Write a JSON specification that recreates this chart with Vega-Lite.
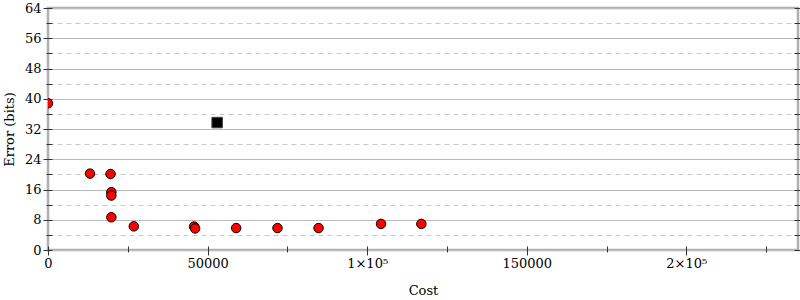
{
  "$schema": "https://vega.github.io/schema/vega-lite/v6.json",
  "width": 750,
  "height": 242,
  "autosize": {"type": "none"},
  "padding": {"left": 48, "top": 8, "right": 2, "bottom": 50},
  "background": "white",
  "config": {
    "view": {"stroke": "#b0b0b0", "strokeWidth": 2.5},
    "font": "DejaVu Serif",
    "axis": {
      "labelFont": "DejaVu Serif",
      "titleFont": "DejaVu Serif",
      "labelFontSize": 13,
      "titleFontSize": 13,
      "titleFontWeight": "normal",
      "labelColor": "#000",
      "titleColor": "#000",
      "labelFlush": false,
      "labelOverlap": false,
      "labelBound": false
    }
  },
  "data": {
    "values": [
      {"Cost": 0, "Error": 38.8, "kind": "front"},
      {"Cost": 13170, "Error": 20.2, "kind": "front"},
      {"Cost": 19600, "Error": 20.1, "kind": "front"},
      {"Cost": 19850, "Error": 15.3, "kind": "front"},
      {"Cost": 19850, "Error": 14.4, "kind": "front"},
      {"Cost": 19850, "Error": 8.65, "kind": "front"},
      {"Cost": 26880, "Error": 6.25, "kind": "front"},
      {"Cost": 45790, "Error": 6.2, "kind": "front"},
      {"Cost": 46100, "Error": 5.7, "kind": "front"},
      {"Cost": 58960, "Error": 5.8, "kind": "front"},
      {"Cost": 71900, "Error": 5.8, "kind": "front"},
      {"Cost": 84770, "Error": 5.8, "kind": "front"},
      {"Cost": 104340, "Error": 6.9, "kind": "front"},
      {"Cost": 116980, "Error": 6.9, "kind": "front"},
      {"Cost": 53000, "Error": 33.7, "kind": "best"}
    ]
  },
  "layer": [
    {
      "transform": [{"filter": "datum.kind == 'front'"}],
      "mark": {"type": "point", "shape": "circle", "filled": true, "fill": "#ff0000", "stroke": "#000000", "strokeWidth": 1, "size": 90, "opacity": 1, "clip": true},
      "encoding": {
        "x": {
          "field": "Cost", "type": "quantitative",
          "scale": {"domain": [0, 235000], "nice": false, "zero": true},
          "axis": {
            "orient": "bottom",
            "values": [0, 25000, 50000, 75000, 100000, 125000, 150000, 175000, 200000, 225000],
            "grid": false, "domain": false, "offset": -4,
            "tickSize": {"condition": {"test": "datum.value % 50000 == 0", "value": 9}, "value": 6},
            "tickColor": "#333",
            "labelExpr": "datum.value % 50000 != 0 ? '' : (datum.value >= 100000 && datum.value % 100000 == 0 ? (datum.value / 100000) + '×10⁵' : format(datum.value, 'd'))",
            "labelPadding": 2,
            "title": "Cost",
            "titlePadding": 14
          }
        },
        "y": {
          "field": "Error", "type": "quantitative",
          "scale": {"domain": [0, 64], "nice": false},
          "axis": {
            "orient": "left",
            "values": [0, 4, 8, 12, 16, 20, 24, 28, 32, 36, 40, 44, 48, 52, 56, 60, 64],
            "grid": true, "gridWidth": 1,
            "gridColor": {"condition": {"test": "datum.value % 8 == 4", "value": "#c8c8c8"}, "value": "#bbbbbb"},
            "gridDash": {"condition": {"test": "datum.value % 8 == 4", "value": [5, 4]}, "value": []},
            "domain": false, "offset": -4,
            "tickSize": {"condition": {"test": "datum.value % 8 == 0", "value": 9}, "value": 6},
            "tickColor": "#333",
            "labelExpr": "datum.value % 8 == 0 ? format(datum.value, 'd') : ''",
            "labelPadding": 2,
            "title": "Error (bits)",
            "titlePadding": 8
          }
        }
      }
    },
    {
      "transform": [{"filter": "datum.kind == 'best'"}],
      "mark": {"type": "square", "filled": true, "fill": "#000000", "stroke": "#444444", "strokeWidth": 1, "size": 110, "opacity": 1},
      "encoding": {
        "x": {"field": "Cost", "type": "quantitative", "axis": null},
        "y": {
          "field": "Error", "type": "quantitative",
          "axis": {
            "orient": "right",
            "values": [0, 4, 8, 12, 16, 20, 24, 28, 32, 36, 40, 44, 48, 52, 56, 60, 64],
            "grid": false, "domain": false, "offset": -4, "labels": false, "title": null,
            "tickSize": {"condition": {"test": "datum.value % 8 == 0", "value": 9}, "value": 6},
            "tickColor": "#333"
          }
        }
      }
    }
  ],
  "resolve": {"axis": {"x": "independent", "y": "independent"}}
}
